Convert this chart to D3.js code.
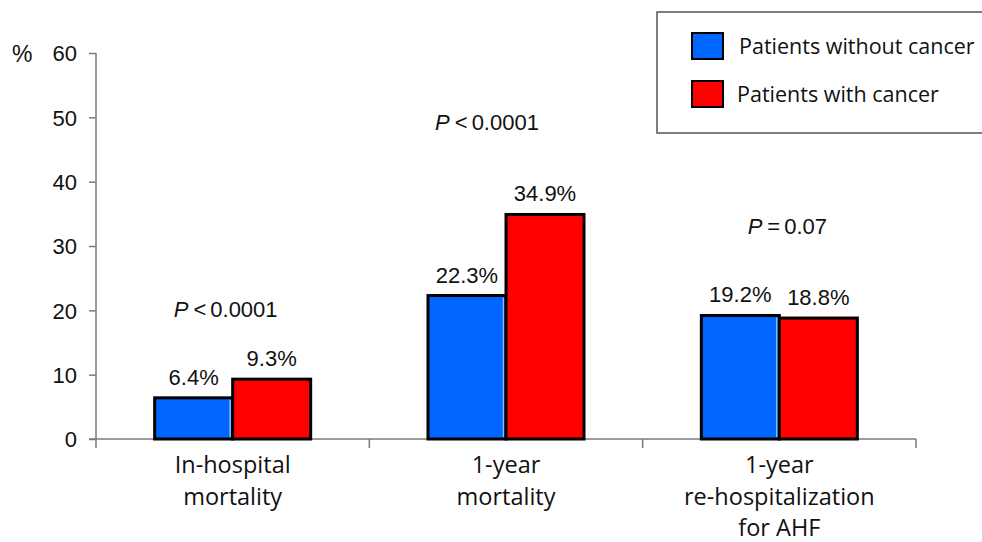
<!DOCTYPE html>
<html>
<head>
<meta charset="utf-8">
<script src="https://cdn.jsdelivr.net/npm/d3@7"></script>
<style>
  html, body { margin: 0; padding: 0; background: #fff; }
  svg { display: block; }
  .num { font-family: 'Liberation Sans', Arimo, Arial, Helvetica, sans-serif; fill: #111; font-size: 22px; }
  .word { font-family: 'Open Sans', Lato, sans-serif; fill: #111; }
</style>
</head>
<body>
<svg id="chart" width="982" height="542"></svg>
<script>
// Outcomes (%) by cancer status
const categories = [
  ["In-hospital", "mortality"],
  ["1-year", "mortality"],
  ["1-year", "re-hospitalization", "for AHF"]
];
const seriesNames = ["Patients without cancer", "Patients with cancer"];
const withoutCancer = [6.4, 22.3, 19.2];
const withCancer = [9.3, 34.9, 18.8];
const pLabels = [["<", "0.0001"], ["<", "0.0001"], ["=", "0.07"]];
const pLevels = [19, 48, 31.9];           // height of each P annotation, in % units
const yTicks = [0, 10, 20, 30, 40, 50, 60];

const colors = ["#0066ff", "#ff0000"];
const svg = d3.select("#chart");

const y = d3.scaleLinear().domain([0, 60]).range([439, 53]);
const catKeys = categories.map((c, i) => i);
const x0 = d3.scaleBand().domain(catKeys).range([96, 916]).paddingInner(0).paddingOuter(0);
const x1 = d3.scaleBand().domain([0, 1]).range([0, x0.bandwidth()]).paddingInner(0).paddingOuter(0.752);

const axisColor = "#7a7a7a";

// y axis
const yAxis = d3.axisLeft(y).tickValues(yTicks).tickSize(7).tickSizeOuter(0).tickPadding(12);
const gy = svg.append("g").attr("transform", "translate(96,0)").call(yAxis);
gy.attr("font-family", null).attr("font-size", null);
gy.select(".domain").remove();
gy.selectAll(".tick line").attr("stroke", axisColor).attr("stroke-width", 1.5);
gy.selectAll(".tick text").attr("class", "num").attr("fill", null).attr("dy", "0.36em");
svg.append("line").attr("x1", 96).attr("x2", 96).attr("y1", y(60)).attr("y2", 448)
  .attr("stroke", axisColor).attr("stroke-width", 1.5);
svg.append("text").attr("class", "num").attr("x", 12).attr("y", 62).style("font-size", "23px").text("%");

// x axis with ticks at category boundaries
svg.append("line").attr("x1", 89).attr("x2", 916).attr("y1", y(0)).attr("y2", y(0))
  .attr("stroke", axisColor).attr("stroke-width", 1.5);
catKeys.forEach(i => {
  const xe = x0(i) + x0.bandwidth();
  svg.append("line").attr("x1", xe).attr("x2", xe).attr("y1", y(0)).attr("y2", 448)
    .attr("stroke", axisColor).attr("stroke-width", 1.5);
});

// bars
const seriesVals = [withoutCancer, withCancer];
const groups = svg.append("g").selectAll("g").data(catKeys).join("g")
  .attr("transform", i => `translate(${x0(i)},0)`);
groups.each(function (i) {
  const g = d3.select(this);
  seriesVals.forEach((vals, s) => {
    const v = vals[i];
    g.append("rect")
      .attr("x", x1(s)).attr("y", y(v))
      .attr("width", x1.bandwidth()).attr("height", y(0) - y(v))
      .attr("fill", colors[s]).attr("stroke", "#000").attr("stroke-width", 3);
    if (s === 0) {
      g.append("line")
        .attr("x1", x1(s) + x1.bandwidth() - 2.5).attr("x2", x1(s) + x1.bandwidth() - 2.5)
        .attr("y1", y(v) + 2).attr("y2", y(0) - 2)
        .attr("stroke", "#8cbcff").attr("stroke-width", 1.5);
    }
    g.append("text").attr("class", "num")
      .attr("x", x1(s) + x1.bandwidth() / 2).attr("y", y(v) - 13)
      .attr("text-anchor", "middle")
      .text(v.toFixed(1) + "%");
  });
});

// P-value annotations
const pOffsets = [-7, -19, 8];
catKeys.forEach(i => {
  const t = svg.append("text").attr("class", "num")
    .attr("x", x0(i) + x0.bandwidth() / 2 + pOffsets[i]).attr("y", y(pLevels[i]))
    .attr("text-anchor", "middle");
  t.append("tspan").attr("font-style", "italic").text("P");
  t.append("tspan").attr("dx", 5).text(pLabels[i][0]);
  t.append("tspan").attr("dx", 4).text(pLabels[i][1]);
});

// category labels
catKeys.forEach(i => {
  const t = svg.append("text").attr("class", "word")
    .attr("text-anchor", "middle")
    .style("font-size", "23.5px");
  categories[i].forEach((line, k) => {
    t.append("tspan").attr("x", x0(i) + x0.bandwidth() / 2).attr("y", 473 + k * 31.5).text(line);
  });
});

// legend
const lg = svg.append("g");
lg.append("rect").attr("x", 657).attr("y", 12).attr("width", 340).attr("height", 121)
  .attr("fill", "#fff").attr("stroke", "#555").attr("stroke-width", 1.5);
seriesNames.forEach((name, s) => {
  const cy = 46 + s * 48;
  lg.append("rect").attr("x", 692).attr("y", cy - 13).attr("width", 31).attr("height", 26)
    .attr("fill", colors[s]).attr("stroke", "#000").attr("stroke-width", 2);
  lg.append("text").attr("class", "word").attr("x", 739 - s * 2).attr("y", cy + 8)
    .style("font-size", "21.5px").text(name);
});
</script>
</body>
</html>
